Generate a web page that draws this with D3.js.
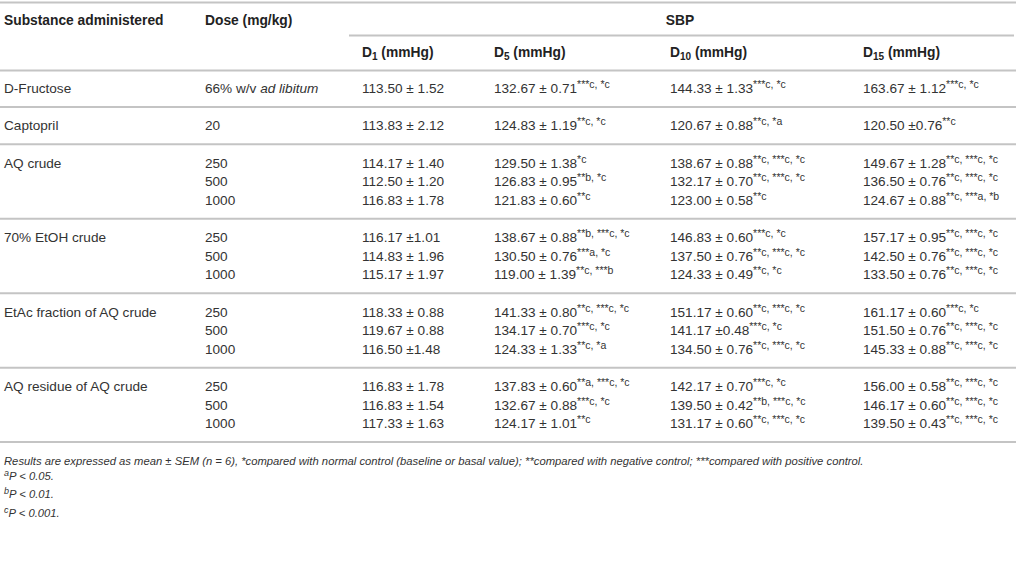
<!DOCTYPE html>
<html>
<head>
<meta charset="utf-8">
<script src="https://cdn.jsdelivr.net/npm/d3@7"></script>
<style>
  body { margin: 0; background: #fff; }
  text { font-family: "Liberation Sans", Arial, Helvetica, sans-serif; fill: #333; }
  .head { font-weight: bold; font-size: 13.8px; fill: #222; }
  .cell { font-size: 13.6px; }
  .note { font-size: 11.25px; font-style: italic; }
</style>
</head>
<body>
<div id="table"></div>
<script>
// table content
var substances = ["D-Fructose", "Captopril", "AQ crude", "70% EtOH crude",
  "EtAc fraction of AQ crude", "AQ residue of AQ crude"];
var rowGroup = [0, 1, 2, 2, 2, 3, 3, 3, 4, 4, 4, 5, 5, 5];
var doses = ["66% w/v |ad libitum", "20", "250", "500", "1000", "250", "500", "1000",
  "250", "500", "1000", "250", "500", "1000"];
var dayLabels = [["D", "1"], ["D", "5"], ["D", "10"], ["D", "15"]];

// "mean ± SEM|superscript"
var d1 = ["113.50 ± 1.52", "113.83 ± 2.12", "114.17 ± 1.40", "112.50 ± 1.20", "116.83 ± 1.78",
  "116.17 ±1.01", "114.83 ± 1.96", "115.17 ± 1.97", "118.33 ± 0.88", "119.67 ± 0.88",
  "116.50 ±1.48", "116.83 ± 1.78", "116.83 ± 1.54", "117.33 ± 1.63"];
var d5 = ["132.67 ± 0.71|***c, *c", "124.83 ± 1.19|**c, *c", "129.50 ± 1.38|*c",
  "126.83 ± 0.95|**b, *c", "121.83 ± 0.60|**c", "138.67 ± 0.88|**b, ***c, *c",
  "130.50 ± 0.76|***a, *c", "119.00 ± 1.39|**c, ***b", "141.33 ± 0.80|**c, ***c, *c",
  "134.17 ± 0.70|***c, *c", "124.33 ± 1.33|**c, *a", "137.83 ± 0.60|**a, ***c, *c",
  "132.67 ± 0.88|***c, *c", "124.17 ± 1.01|**c"];
var d10 = ["144.33 ± 1.33|***c, *c", "120.67 ± 0.88|**c, *a", "138.67 ± 0.88|**c, ***c, *c",
  "132.17 ± 0.70|**c, ***c, *c", "123.00 ± 0.58|**c", "146.83 ± 0.60|***c,  *c",
  "137.50 ± 0.76|**c, ***c, *c", "124.33 ± 0.49|**c, *c", "151.17 ± 0.60|**c, ***c, *c",
  "141.17 ±0.48|***c, *c", "134.50 ± 0.76|**c, ***c, *c", "142.17 ± 0.70|***c, *c",
  "139.50 ± 0.42|**b, ***c, *c", "131.17 ± 0.60|**c, ***c, *c"];
var d15 = ["163.67 ± 1.12|***c, *c", "120.50 ±0.76|**c", "149.67 ± 1.28|**c, ***c, *c",
  "136.50 ± 0.76|**c, ***c, *c", "124.67 ± 0.88|**c, ***a, *b", "157.17 ± 0.95|**c, ***c, *c",
  "142.50 ± 0.76|**c, ***c, *c", "133.50 ± 0.76|**c, ***c, *c", "161.17 ± 0.60|***c, *c",
  "151.50 ± 0.76|**c, ***c, *c", "145.33 ± 0.88|**c, ***c, *c", "156.00 ± 0.58|**c, ***c, *c",
  "146.17 ± 0.60|**c, ***c, *c", "139.50 ± 0.43|**c, ***c, *c"];
var footnotes = [
  ["", "Results are expressed as mean ± SEM (n = 6), *compared with normal control (baseline or basal value); **compared with negative control; ***compared with positive control."],
  ["a", "P < 0.05."],
  ["b", "P < 0.01."],
  ["c", "P < 0.001."]
];

var width = 1016, height = 571;
var colX = [4, 205, 362, 494, 670, 863];
var ruleColor = "#c4c4c4";

var svg = d3.select("#table").append("svg")
  .attr("width", width)
  .attr("height", height);

// one slot per body row plus one per group separator
var slotY = d3.scaleLinear().domain([0, 18]).range([88.5, 423.5]);
var slotOf = (i) => i + rowGroup[i];

// rules
function rule(x1, x2, y) {
  svg.append("line")
    .attr("x1", x1).attr("x2", x2)
    .attr("y1", y).attr("y2", y)
    .attr("stroke", ruleColor)
    .attr("stroke-width", 2);
}
rule(0, 1016, 2.5);
rule(349, 1014, 35.5);
rule(0, 1016, 70.5);
d3.range(substances.length).forEach(function(g) {
  var last = d3.max(rowGroup.map((v, i) => v === g ? i : -1));
  rule(0, 1016, slotY(slotOf(last) + 1));
});

// header
svg.append("text").attr("class", "head")
  .attr("x", colX[0]).attr("y", 20).attr("dy", "0.35em")
  .text("Substance administered");
svg.append("text").attr("class", "head")
  .attr("x", colX[1]).attr("y", 20).attr("dy", "0.35em")
  .text("Dose (mg/kg)");
svg.append("text").attr("class", "head")
  .attr("x", 680).attr("y", 20).attr("dy", "0.35em")
  .attr("text-anchor", "middle")
  .text("SBP");

var dayHead = svg.selectAll(".dayhead")
  .data(dayLabels)
  .enter()
  .append("text")
  .attr("class", "head dayhead")
  .attr("x", (d, i) => colX[i + 2])
  .attr("y", 52)
  .attr("dy", "0.35em");
dayHead.append("tspan").text(d => d[0]);
dayHead.append("tspan").attr("font-size", "10px").attr("dy", "3.5").text(d => d[1]);
dayHead.append("tspan").attr("dy", "-3.5").text(" (mmHg)");

// substance names on first row of each group
svg.selectAll(".subst")
  .data(substances)
  .enter()
  .append("text")
  .attr("class", "cell subst")
  .attr("x", colX[0])
  .attr("y", (d, g) => slotY(slotOf(rowGroup.indexOf(g))))
  .attr("dy", "0.35em")
  .text(d => d);

// dose column
var doseText = svg.selectAll(".dose")
  .data(doses)
  .enter()
  .append("text")
  .attr("class", "cell dose")
  .attr("x", colX[1])
  .attr("y", (d, i) => slotY(slotOf(i)))
  .attr("dy", "0.35em");
doseText.append("tspan").text(d => d.split("|")[0]);
doseText.append("tspan")
  .attr("font-style", "italic")
  .text(d => d.split("|")[1] || "");

// value columns
[d1, d5, d10, d15].forEach(function(col, c) {
  var t = svg.selectAll(".val" + c)
    .data(col)
    .enter()
    .append("text")
    .attr("class", "cell val" + c)
    .attr("x", colX[c + 2])
    .attr("y", (d, i) => slotY(slotOf(i)))
    .attr("dy", "0.35em");
  t.append("tspan").text(d => d.split("|")[0]);
  t.filter(d => d.indexOf("|") >= 0)
    .append("tspan")
    .attr("font-size", "10.5px")
    .attr("dy", "-5")
    .text(d => d.split("|")[1]);
});

// footnotes
var note = svg.selectAll(".note")
  .data(footnotes)
  .enter()
  .append("text")
  .attr("class", "note")
  .attr("x", colX[0])
  .attr("y", (d, i) => slotY(20 + i) + 0.5)
  .attr("dy", "0.35em");
note.filter(d => d[0] !== "")
  .append("tspan")
  .attr("font-size", "9px")
  .attr("dy", "-4")
  .text(d => d[0]);
note.append("tspan")
  .attr("dy", d => d[0] !== "" ? "4" : null)
  .text(d => d[1]);
</script>
</body>
</html>
